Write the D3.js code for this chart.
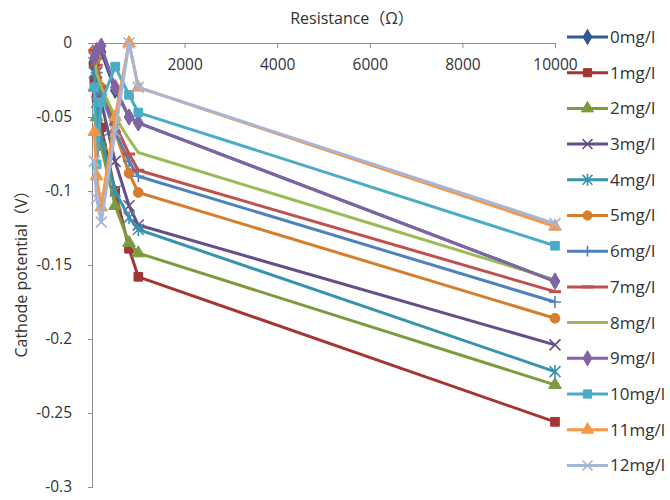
<!DOCTYPE html>
<html>
<head>
<meta charset="utf-8">
<script src="https://cdn.jsdelivr.net/npm/d3@7"></script>
<style>
  html, body { margin: 0; padding: 0; background: #fff; }
  svg text { font-family: "Open Sans", "Noto Sans CJK SC", sans-serif; fill: #333; }
</style>
</head>
<body>
<svg id="chart" width="670" height="500"></svg>
<script>
// ---- data ----
const resistance = [50, 100, 200, 500, 800, 1000, 10000];
const seriesNames = ["0mg/l","1mg/l","2mg/l","3mg/l","4mg/l","5mg/l","6mg/l","7mg/l","8mg/l","9mg/l","10mg/l","11mg/l","12mg/l"];
const s0  = [-0.015, -0.010, -0.006, -0.032, -0.050, -0.054, -0.161];
const s1  = [-0.025, -0.037, -0.057, -0.100, -0.139, -0.158, -0.256];
const s2  = [-0.030, -0.050, -0.070, -0.110, -0.135, -0.142, -0.231];
const s3  = [-0.010, -0.020, -0.040, -0.080, -0.110, -0.123, -0.204];
const s4  = [-0.020, -0.040, -0.065, -0.100, -0.118, -0.126, -0.222];
const s5  = [-0.005, -0.010, -0.030, -0.060, -0.088, -0.101, -0.186];
const s6  = [-0.010, -0.020, -0.035, -0.060, -0.080, -0.090, -0.175];
const s7  = [-0.005, -0.015, -0.030, -0.055, -0.075, -0.086, -0.168];
const s8  = [-0.010, -0.020, -0.030, -0.050, -0.065, -0.074, -0.160];
const s9  = [-0.010, -0.005, -0.002, -0.030, -0.050, -0.054, -0.161];
const s10 = [-0.030, -0.082, -0.040, -0.016, -0.035, -0.047, -0.137];
const s11 = [-0.060, -0.090, -0.111, -0.050, 0.000, -0.030, -0.124];
const s12 = [-0.080, -0.105, -0.121, -0.060, 0.000, -0.030, -0.122];
const seriesValues = [s0,s1,s2,s3,s4,s5,s6,s7,s8,s9,s10,s11,s12];
const xTicks = [0, 2000, 4000, 6000, 8000, 10000];
const yTicks = [0, -0.05, -0.1, -0.15, -0.2, -0.25, -0.3];
const xTitle = "Resistance（Ω）";
const yTitle = "Cathode potential（V）";

// ---- styles ----
const colors = ["#2F5A94","#A33634","#7D9A3F","#654E8A","#3794AE","#D67E2E",
                "#4F81BD","#C0504D","#9BBB59","#8064A2","#4BACC6","#F79646","#A5B6D6"];
const markers = ["diamond","square","triangle","x","star","circle","plus","dash","none",
                 "diamond","square","triangle","x"];

const svg = d3.select("#chart");
const mLeft = 92, mRight = 555, mTop = 43, mBottom = 487;
const x = d3.scaleLinear().domain([0, 10000]).range([mLeft, mRight]);
const y = d3.scaleLinear().domain([-0.3, 0]).range([mBottom, mTop]);

// axes
const yAxis = d3.axisLeft(y).tickValues(yTicks).tickSize(4).tickPadding(16)
  .tickFormat(d => d === 0 ? "0" : String(+d.toFixed(2)));
const gy = svg.append("g").attr("transform", `translate(${mLeft},0)`).call(yAxis);
gy.selectAll("path, line").attr("stroke", "#8c8c8c");
gy.selectAll("text").style("font-size", "15.5px").attr("fill", "#333");

const xAxis = d3.axisBottom(x).tickValues(xTicks).tickSize(5).tickPadding(11)
  .tickSizeOuter(0).tickFormat(d3.format("d"));
const gx = svg.append("g").attr("transform", `translate(0,${mTop})`).call(xAxis);
gx.selectAll("path, line").attr("stroke", "#8c8c8c");
gx.selectAll("text").style("font-size", "15.5px").attr("fill", "#333");

// titles
svg.append("text").attr("x", 352).attr("y", 24).attr("text-anchor", "middle")
  .style("font-size", "16px").text(xTitle);
svg.append("text").attr("transform", "translate(27,270) rotate(-90)")
  .attr("text-anchor", "middle").style("font-size", "16px").text(yTitle);

// marker drawing
function drawMarker(g, type, color, cx, cy, s) {
  s = s || 1;
  const sym = {diamond: d3.symbolDiamond, square: d3.symbolSquare, triangle: d3.symbolTriangle, circle: d3.symbolCircle};
  if (sym[type]) {
    const size = {diamond: 75, square: 75, triangle: 70, circle: 75}[type] * s;
    g.append("path").attr("d", d3.symbol().type(sym[type]).size(size)())
      .attr("transform", `translate(${cx},${cy})`).attr("fill", color).attr("stroke", color).attr("stroke-width", 1);
  } else if (type === "x" || type === "star") {
    const r = 5.5 * s;
    let p = `M${cx-r},${cy-r}L${cx+r},${cy+r}M${cx-r},${cy+r}L${cx+r},${cy-r}`;
    if (type === "star") p += `M${cx},${cy-r-1}L${cx},${cy+r+1}`;
    g.append("path").attr("d", p).attr("stroke", color).attr("stroke-width", 1.6).attr("fill", "none");
  } else if (type === "plus") {
    const r = 6 * s;
    g.append("path").attr("d", `M${cx},${cy-r}L${cx},${cy+r}M${cx-r},${cy}L${cx+r},${cy}`)
      .attr("stroke", color).attr("stroke-width", 1.6).attr("fill", "none");
  } else if (type === "dash") {
    g.append("path").attr("d", `M${cx-6},${cy}L${cx+6},${cy}`)
      .attr("stroke", color).attr("stroke-width", 3).attr("fill", "none");
  }
}

// series
const line = d3.line().x(d => x(d[0])).y(d => y(d[1]));
const plot = svg.append("g");
seriesValues.forEach((vals, i) => {
  const pts = resistance.map((r, k) => [r, vals[k]]);
  const g = plot.append("g");
  g.append("path").attr("d", line(pts)).attr("fill", "none")
    .attr("stroke", colors[i]).attr("stroke-width", 3).attr("stroke-linejoin", "round");
  pts.forEach(p => drawMarker(g, markers[i], colors[i], x(p[0]), y(p[1])));
});

// legend
const lg = svg.append("g");
seriesNames.forEach((name, i) => {
  const ly = 37 + i * 35.7;
  lg.append("line").attr("x1", 567).attr("x2", 608).attr("y1", ly).attr("y2", ly)
    .attr("stroke", colors[i]).attr("stroke-width", 3);
  drawMarker(lg, markers[i], colors[i], 587.5, ly, 0.9);
  lg.append("text").attr("x", 610).attr("y", ly).attr("dy", "0.35em")
    .style("font-size", "17px").text(name);
});
</script>
</body>
</html>
